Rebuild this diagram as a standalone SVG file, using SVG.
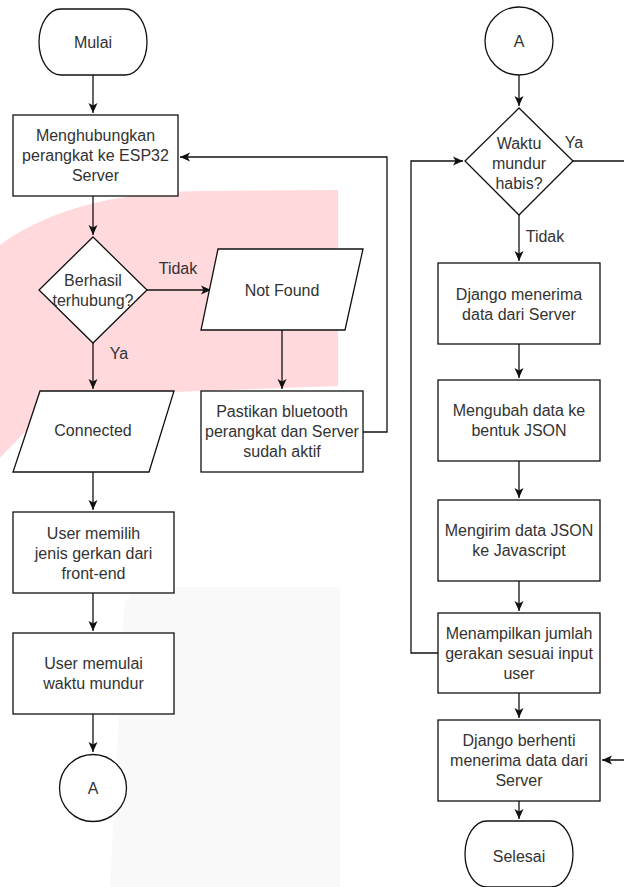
<svg xmlns="http://www.w3.org/2000/svg" width="624" height="887" viewBox="0 0 624 887">
<style>
.s{fill:#fff;stroke:#111;stroke-width:1.3}
.c{fill:none;stroke:#111;stroke-width:1.3}
.t{font-family:"Liberation Sans",Arial,sans-serif;font-size:16px;fill:#333;text-anchor:middle}
</style>
<defs>
<marker id="ah" markerUnits="userSpaceOnUse" markerWidth="12" markerHeight="10" refX="10" refY="5" orient="auto">
<path d="M0,0.5 L10,5 L0,9.5 L2.5,5 Z" fill="#111"/>
</marker>
</defs>
<rect width="624" height="887" fill="#fff"/>
<g id="watermark">
<path d="M338,190 L338,386 L175,392 L62,393 L0,458 L0,245 Q70,193 200,191 Z" fill="#ffd9db"/>
<path d="M147,587 L340,587 L340,887 L110,887 L124,612 Q126,587 147,587 Z" fill="#f9f9f9"/>
</g>
<g id="connectors">
<path class="c" d="M93,75 V113" marker-end="url(#ah)"/>
<path class="c" d="M93,196 V235" marker-end="url(#ah)"/>
<path class="c" d="M147,290 H211" marker-end="url(#ah)"/>
<text class="t" x="178" y="274">Tidak</text>
<path class="c" d="M282,330 V389" marker-end="url(#ah)"/>
<path class="c" d="M363,432 H387 V157 H180" marker-end="url(#ah)"/>
<path class="c" d="M93,343 V389" marker-end="url(#ah)"/>
<text class="t" x="119" y="359">Ya</text>
<path class="c" d="M93,472 V510" marker-end="url(#ah)"/>
<path class="c" d="M93,593 V631" marker-end="url(#ah)"/>
<path class="c" d="M93,714 V752" marker-end="url(#ah)"/>
<path class="c" d="M519,75 V106" marker-end="url(#ah)"/>
<path class="c" d="M573,161 H640 V760 H602" marker-end="url(#ah)"/>
<text class="t" x="574" y="148">Ya</text>
<path class="c" d="M519,215 V261" marker-end="url(#ah)"/>
<text class="t" x="545" y="242">Tidak</text>
<path class="c" d="M519,344 V378" marker-end="url(#ah)"/>
<path class="c" d="M519,461 V498" marker-end="url(#ah)"/>
<path class="c" d="M519,581 V611" marker-end="url(#ah)"/>
<path class="c" d="M438,653 H411 V161 H463" marker-end="url(#ah)"/>
<path class="c" d="M519,693 V718" marker-end="url(#ah)"/>
<path class="c" d="M519,801 V819" marker-end="url(#ah)"/>
</g>
<g id="mulai">
<rect class="s" x="39" y="9" width="108" height="66" rx="22" ry="33"/>
<text class="t" x="93" y="47.5">Mulai</text>
</g>
<g id="hubungkan">
<rect class="s" x="13" y="115" width="165" height="81"/>
<text class="t" x="95.5" y="141">Menghubungkan</text>
<text class="t" x="95.5" y="161">perangkat ke ESP32</text>
<text class="t" x="95.5" y="181">Server</text>
</g>
<g id="berhasil">
<path class="s" d="M93,237 L147,290 L93,343 L39,290 Z"/>
<text class="t" x="93" y="286">Berhasil</text>
<text class="t" x="93" y="306">terhubung?</text>
</g>
<g id="notfound">
<path class="s" d="M218,249 L363,249 L345,330 L201,330 Z"/>
<text class="t" x="282" y="295.5">Not Found</text>
</g>
<g id="pastikan">
<rect class="s" x="201" y="391" width="162" height="81"/>
<text class="t" x="282" y="417">Pastikan bluetooth</text>
<text class="t" x="282" y="437">perangkat dan Server</text>
<text class="t" x="282" y="457">sudah aktif</text>
</g>
<g id="connected">
<path class="s" d="M40,391 L174,391 L149,472 L13,472 Z"/>
<text class="t" x="93" y="436">Connected</text>
</g>
<g id="memilih">
<rect class="s" x="13" y="512" width="161" height="81"/>
<text class="t" x="93.5" y="538.5">User memilih</text>
<text class="t" x="93.5" y="558.5">jenis gerkan dari</text>
<text class="t" x="93.5" y="578.5">front-end</text>
</g>
<g id="memulai">
<rect class="s" x="13" y="633" width="161" height="81"/>
<text class="t" x="93.5" y="669">User memulai</text>
<text class="t" x="93.5" y="689">waktu mundur</text>
</g>
<g id="a-left">
<circle class="s" cx="93" cy="788" r="33.5"/>
<text class="t" x="93" y="793.5">A</text>
</g>
<g id="a-right">
<circle class="s" cx="519" cy="41" r="34"/>
<text class="t" x="519" y="46.5">A</text>
</g>
<g id="habis">
<path class="s" d="M519,108 L573,161 L519,215 L465,161 Z"/>
<text class="t" x="519" y="148.5">Waktu</text>
<text class="t" x="519" y="168.5">mundur</text>
<text class="t" x="519" y="188.5">habis?</text>
</g>
<g id="menerima">
<rect class="s" x="438" y="263" width="162" height="81"/>
<text class="t" x="519" y="299.5">Django menerima</text>
<text class="t" x="519" y="319.5">data dari Server</text>
</g>
<g id="mengubah">
<rect class="s" x="438" y="380" width="162" height="81"/>
<text class="t" x="519" y="416">Mengubah data ke</text>
<text class="t" x="519" y="436">bentuk JSON</text>
</g>
<g id="mengirim">
<rect class="s" x="438" y="500" width="162" height="81"/>
<text class="t" x="519" y="536">Mengirim data JSON</text>
<text class="t" x="519" y="556">ke Javascript</text>
</g>
<g id="menampilkan">
<rect class="s" x="438" y="613" width="162" height="80"/>
<text class="t" x="519" y="638.5">Menampilkan jumlah</text>
<text class="t" x="519" y="658.5">gerakan sesuai input</text>
<text class="t" x="519" y="678.5">user</text>
</g>
<g id="berhenti">
<rect class="s" x="438" y="720" width="162" height="81"/>
<text class="t" x="519" y="746">Django berhenti</text>
<text class="t" x="519" y="766">menerima data dari</text>
<text class="t" x="519" y="786">Server</text>
</g>
<g id="selesai">
<rect class="s" x="465" y="821" width="108" height="66" rx="22" ry="33"/>
<text class="t" x="519" y="861.5">Selesai</text>
</g>
</svg>
